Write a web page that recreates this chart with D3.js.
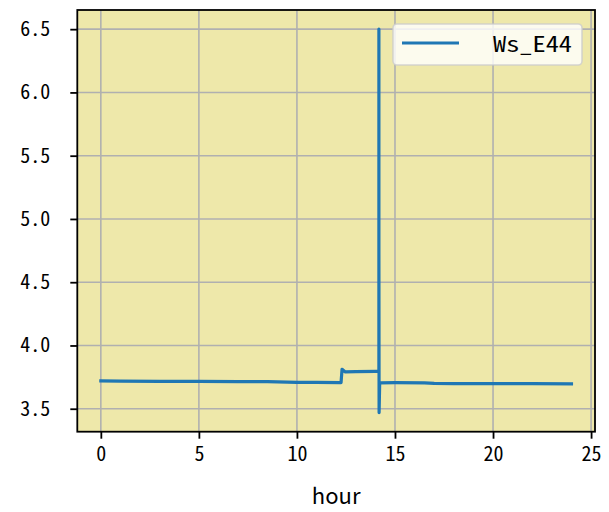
<!DOCTYPE html>
<html>
<head>
<meta charset="utf-8">
<script src="https://cdn.jsdelivr.net/npm/d3@7"></script>
<style>
  html, body { margin: 0; padding: 0; background: #ffffff; }
  svg { display: block; }
  .tick text { font-family: "Noto Sans Mono CJK SC", "Noto Sans CJK SC", "DejaVu Sans Mono", monospace; }
</style>
</head>
<body>
<svg id="chart" width="609" height="512"></svg>
<script>
// ---- data ----
const seriesName = "Ws_E44";
const hours = [0, 1, 3, 5, 7, 8.5, 9.5, 10, 11, 12.2, 12.25, 12.3, 12.45, 13, 14, 14.18, 14.18, 14.18, 14.19, 14.22, 14.27, 15, 16.5, 17, 18, 20, 22, 24];
const values = [3.72, 3.719, 3.717, 3.716, 3.715, 3.714, 3.711, 3.709, 3.708, 3.707, 3.707, 3.812, 3.792, 3.793, 3.795, 3.795, 6.50, 4.77, 3.47, 3.705, 3.705, 3.706, 3.704, 3.700, 3.699, 3.698, 3.698, 3.697];
const xTicks = [0, 5, 10, 15, 20, 25];
const yTicks = [3.5, 4.0, 4.5, 5.0, 5.5, 6.0, 6.5];
const xLabel = "hour";

// ---- layout ----
const W = 609, H = 512;
const margin = { left: 77.3, right: 14, top: 10, bottom: 80.3 };
const svg = d3.select("#chart");

const xMin = d3.min(hours), xMax = d3.max(hours);
const xPad = (xMax - xMin) * 0.05;
const yMin = d3.min(values), yMax = d3.max(values);
const yPad = (yMax - yMin) * 0.05;

const x = d3.scaleLinear().domain([xMin - xPad, xMax + xPad]).range([margin.left, W - margin.right]);
const y = d3.scaleLinear().domain([yMin - yPad, yMax + yPad]).range([H - margin.bottom, margin.top]);

const pw = W - margin.left - margin.right, ph = H - margin.top - margin.bottom;

// background
svg.append("rect").attr("x", margin.left).attr("y", margin.top)
  .attr("width", pw).attr("height", ph).attr("fill", "#eee8aa");

// grid
const grid = svg.append("g").attr("stroke", "#b0b0b0").attr("stroke-width", 1.6);
grid.selectAll("line.gx").data(xTicks.filter(t => x(t) <= W - margin.right)).enter().append("line")
  .attr("x1", d => x(d)).attr("x2", d => x(d)).attr("y1", margin.top).attr("y2", H - margin.bottom);
grid.selectAll("line.gy").data(yTicks).enter().append("line")
  .attr("y1", d => y(d)).attr("y2", d => y(d)).attr("x1", margin.left).attr("x2", W - margin.right);

// line
svg.append("clipPath").attr("id", "clip").append("rect")
  .attr("x", margin.left).attr("y", margin.top).attr("width", pw).attr("height", ph);
const line = d3.line().x((d, i) => x(hours[i])).y(d => y(d));
svg.append("path").datum(values)
  .attr("clip-path", "url(#clip)")
  .attr("d", line).attr("fill", "none").attr("stroke", "#1f77b4")
  .attr("stroke-width", 3.2).attr("stroke-linejoin", "round").attr("stroke-linecap", "square");

// spines
svg.append("rect").attr("x", margin.left).attr("y", margin.top)
  .attr("width", pw).attr("height", ph).attr("fill", "none")
  .attr("stroke", "#000").attr("stroke-width", 1.8);

// axes
const xAxis = d3.axisBottom(x).tickValues(xTicks).tickFormat(d3.format("d")).tickSizeOuter(0).tickSize(7).tickPadding(8);
const gx = svg.append("g").attr("transform", `translate(0,${H - margin.bottom})`).call(xAxis);
gx.select(".domain").remove();
gx.selectAll(".tick line").attr("stroke", "#000").attr("stroke-width", 1.8);
gx.selectAll(".tick text").attr("font-size", 20).attr("fill", "#000");

const yAxis = d3.axisLeft(y).tickValues(yTicks).tickFormat(d3.format(".1f")).tickSizeOuter(0).tickSize(7).tickPadding(20);
const gy = svg.append("g").attr("transform", `translate(${margin.left},0)`).call(yAxis);
gy.select(".domain").remove();
gy.selectAll(".tick line").attr("stroke", "#000").attr("stroke-width", 1.8);
gy.selectAll(".tick text").attr("font-size", 20).attr("fill", "#000");

// x label
svg.append("text").attr("x", margin.left + pw / 2).attr("y", 504)
  .attr("text-anchor", "middle").attr("font-size", 22)
  .attr("font-family", "'Noto Sans CJK SC', 'DejaVu Sans', sans-serif")
  .text(xLabel);

// legend
const lg = svg.append("g");
lg.append("rect").attr("x", 393).attr("y", 24).attr("width", 189).attr("height", 41)
  .attr("rx", 4).attr("fill", "#ffffff").attr("fill-opacity", 0.8)
  .attr("stroke", "#cccccc").attr("stroke-opacity", 0.8).attr("stroke-width", 1.6);
lg.append("line").attr("x1", 402).attr("x2", 459).attr("y1", 43).attr("y2", 43)
  .attr("stroke", "#1f77b4").attr("stroke-width", 3.2);
lg.append("text").attr("x", 493).attr("y", 52).attr("font-size", 22)
  .attr("font-family", "'Noto Sans Mono CJK SC', 'Noto Sans CJK SC', 'DejaVu Sans Mono', monospace")
  .attr("textLength", 79).attr("lengthAdjust", "spacingAndGlyphs")
  .text(seriesName);
</script>
</body>
</html>
